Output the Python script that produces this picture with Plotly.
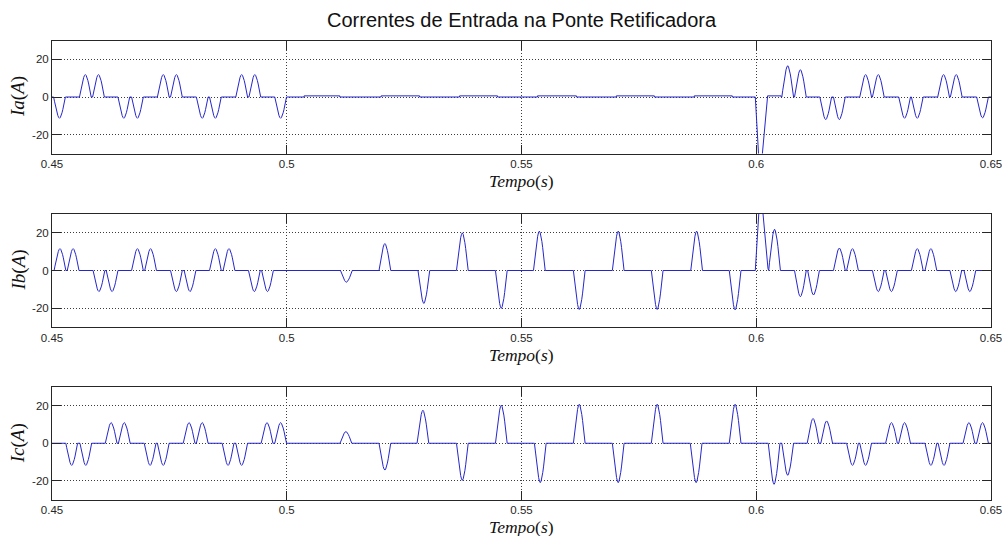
import plotly.graph_objects as go

# Simulation window (s)
T_START, T_END = 0.45, 0.65

# Peak instants (s) and peak values (A) of the line-current pulses, phase a
IA_PULSE_T = [0.4516, 0.4571, 0.4599, 0.4653, 0.4682, 0.4737, 0.4765, 0.4820,
              0.4848, 0.4904, 0.4932, 0.4987,
              0.6067, 0.6094, 0.6148, 0.6177, 0.6233, 0.6260, 0.6316, 0.6343,
              0.6399, 0.6426, 0.6482]
IA_PULSE_A = [-11.3, 11.9, 11.9, -11.3, -11.3, 11.9, 11.9, -11.3,
              -11.3, 11.9, 11.9, -11.3,
              16.6, 14.5, -12.0, -12.0, 11.9, 11.9, -11.3, -11.3,
              11.9, 11.9, -11.1]

# Phase b
IB_PULSE_T = [0.4517, 0.4545, 0.4600, 0.4628, 0.4682, 0.4710, 0.4765, 0.4794,
              0.4848, 0.4877, 0.4931, 0.4959,
              0.5127, 0.5209, 0.5292, 0.5374, 0.5457, 0.5538, 0.5623, 0.5706,
              0.5789, 0.5873, 0.5955,
              0.6039, 0.6094, 0.6122, 0.6177, 0.6205, 0.6260, 0.6288, 0.6343,
              0.6372, 0.6425, 0.6455]
IB_PULSE_A = [11.6, 11.6, -11.2, -11.2, 11.6, 11.6, -11.2, -11.2,
              11.6, 11.6, -11.2, -11.2,
              -6.2, 14.3, -17.5, 20.0, -20.1, 20.9, -20.7, 20.9,
              -20.7, 20.9, -20.9,
              21.9, -13.9, -13.0, 11.9, 11.6, -11.2, -11.2, 11.6,
              11.6, -11.2, -11.2]

# Phase c
IC_PULSE_T = [0.4542, 0.4572, 0.4626, 0.4654, 0.4709, 0.4737, 0.4792, 0.4820,
              0.4875, 0.4904, 0.4958, 0.4987,
              0.5126, 0.5209, 0.5290, 0.5374, 0.5457, 0.5540, 0.5623, 0.5706,
              0.5789, 0.5872, 0.5955,
              0.6038, 0.6067, 0.6121, 0.6150, 0.6205, 0.6233, 0.6288, 0.6316,
              0.6372, 0.6400, 0.6453, 0.6482]
IC_PULSE_A = [-11.8, -11.8, 11.0, 11.0, -11.8, -11.8, 11.0, 11.0,
              -11.8, -11.8, 11.0, 11.0,
              6.2, -14.3, 17.6, -19.8, 20.3, -21.0, 20.8, -21.0,
              20.8, -21.0, 20.8,
              -21.9, -17.1, 13.2, 11.9, -11.8, -11.8, 11.0, 11.0,
              -11.8, -11.8, 11.0, 11.0]

# Residual current in phase a while it is open (start, end, level in A)
IA_LEAK_START = [0.5037, 0.5201, 0.5368, 0.5534, 0.5702, 0.5868, 0.6024]
IA_LEAK_END = [0.5113, 0.5283, 0.5449, 0.5617, 0.5783, 0.5949, 0.6053]
IA_LEAK_LEVEL = 0.6

# Reconnection transient at t = 0.6 s
IA_SPIKE_T = [0.5998, 0.6008, 0.6024]
IA_SPIKE_A = [0.0, -44.0, 0.0]
IB_SPIKE_T = [0.5998, 0.6009, 0.6025]
IB_SPIKE_A = [0.0, 45.0, 1.0]

# Shape of one conduction pulse (normalised), and its base duration (s)
HUMP_PROFILE = [0.0, 0.2, 0.4, 0.58, 0.74, 0.87, 0.96, 1.0,
                0.96, 0.87, 0.74, 0.58, 0.4, 0.2, 0.0]
PULSE_WIDTH = 0.0025

X_TICKS = [0.45, 0.5, 0.55, 0.6, 0.65]
X_TICK_TEXT = ["0.45", "0.5", "0.55", "0.6", "0.65"]
Y_TICKS = [-20, 0, 20]
Y_TICK_TEXT = ["-20", "0", "20"]

TITLE = "Correntes de Entrada na Ponte Retificadora"
Y_LABELS = ["<i>Ia</i>(<i>A</i>)", "<i>Ib</i>(<i>A</i>)", "<i>Ic</i>(<i>A</i>)"]
X_LABEL = "<i>Tempo</i>(<i>s</i>)"


def pulse_points(tp, amp):
    n = len(HUMP_PROFILE) - 1
    return [(tp + PULSE_WIDTH * (k / n - 0.5), amp * p)
            for k, p in enumerate(HUMP_PROFILE)]


def build_wave(pulse_t, pulse_a, extra=()):
    segments = [[(T_START, 0.0)], [(T_END, 0.0)]]
    segments += [pulse_points(t, a) for t, a in zip(pulse_t, pulse_a)]
    segments += list(extra)
    segments.sort(key=lambda s: s[0][0])
    pts = [p for seg in segments for p in seg]
    return [p[0] for p in pts], [p[1] for p in pts]


ia_extra = [list(zip(IA_SPIKE_T, IA_SPIKE_A))]
ia_extra += [[(s, 0.0), (s, IA_LEAK_LEVEL), (e, IA_LEAK_LEVEL), (e, 0.0)]
             for s, e in zip(IA_LEAK_START, IA_LEAK_END)]
ib_extra = [list(zip(IB_SPIKE_T, IB_SPIKE_A))]

waves = [
    build_wave(IA_PULSE_T, IA_PULSE_A, ia_extra),
    build_wave(IB_PULSE_T, IB_PULSE_A, ib_extra),
    build_wave(IC_PULSE_T, IC_PULSE_A),
]

W, H = 1002, 536
X0, X1 = 52, 991
# (top, bottom) pixel rows of each panel
PANELS = [(40.5, 153.5), (214, 327), (387, 499.5)]

AXIS_COLOR = "#262626"
GRID_COLOR = "#3c3c3c"
LINE_COLOR = "#2626cc"
TICK_FONT = dict(family="Liberation Sans, Arial, sans-serif", size=11.5, color=AXIS_COLOR)
LABEL_FONT = dict(family="Liberation Serif, Times New Roman, serif", size=19, color="#111111")
XLABEL_FONT = dict(family="Liberation Serif, Times New Roman, serif", size=17.5, color="#111111")

fig = go.Figure()
layout = dict(
    width=W, height=H,
    margin=dict(l=0, r=0, t=0, b=0, autoexpand=False),
    paper_bgcolor="white", plot_bgcolor="white",
    showlegend=False,
)
annotations = [dict(
    text=TITLE, x=(X0 + X1) / 2 / W, y=1 - 20 / H, xref="paper", yref="paper",
    xanchor="center", yanchor="middle", showarrow=False,
    font=dict(family="Liberation Sans, Arial, sans-serif", size=20, color="#111111"),
)]

for i, ((tx, ty), (top, bot)) in enumerate(zip(waves, PANELS)):
    sfx = "" if i == 0 else str(i + 1)
    fig.add_trace(go.Scatter(
        x=tx, y=ty, mode="lines", line=dict(color=LINE_COLOR, width=1),
        xaxis="x" + sfx, yaxis="y" + sfx, hoverinfo="skip",
    ))
    axis_common = dict(
        ticks="inside", ticklen=9, tickcolor=AXIS_COLOR, tickwidth=1,
        showline=True, linecolor=AXIS_COLOR, linewidth=1, mirror="allticks",
        showgrid=True, gridcolor=GRID_COLOR, griddash="1px,2px", gridwidth=1,
        zeroline=False, tickfont=TICK_FONT, fixedrange=True,
    )
    layout["xaxis" + sfx] = dict(
        axis_common, domain=[X0 / W, X1 / W], range=[T_START, T_END + 1e-7],
        tickmode="array", tickvals=X_TICKS, ticktext=X_TICK_TEXT,
        anchor="y" + sfx, ticklabeloverflow="allow",
    )
    layout["yaxis" + sfx] = dict(
        axis_common, domain=[1 - bot / H, 1 - top / H], range=[-30, 30],
        tickmode="array", tickvals=Y_TICKS, ticktext=Y_TICK_TEXT,
        anchor="x" + sfx,
    )
    annotations.append(dict(
        text=X_LABEL, x=(X0 + X1) / 2 / W, y=1 - (bot + 16.5) / H,
        xref="paper", yref="paper", xanchor="center", yanchor="top",
        showarrow=False, font=XLABEL_FONT, borderpad=0,
    ))
    annotations.append(dict(
        text=Y_LABELS[i], x=18 / W, y=1 - (top + bot) / 2 / H,
        xref="paper", yref="paper", xanchor="center", yanchor="middle",
        textangle=-90, showarrow=False, font=LABEL_FONT,
    ))

layout["annotations"] = annotations
fig.update_layout(**layout)
fig.write_html("out.html")
